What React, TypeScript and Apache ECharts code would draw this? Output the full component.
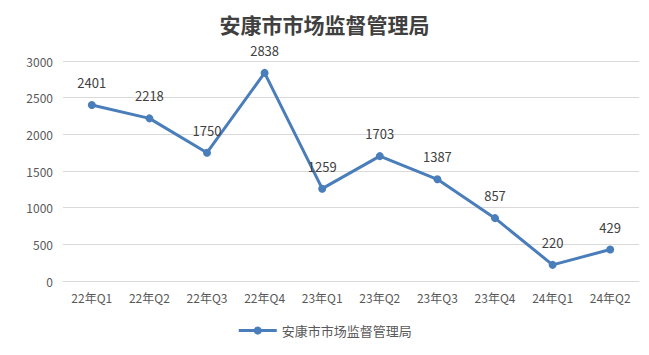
import React, { useEffect, useRef } from "react";
import * as echarts from "echarts";

const categories = ["22年Q1", "22年Q2", "22年Q3", "22年Q4", "23年Q1", "23年Q2", "23年Q3", "23年Q4", "24年Q1", "24年Q2"];
const values = [2401, 2218, 1750, 2838, 1259, 1703, 1387, 857, 220, 429];
const seriesName = "安康市市场监督管理局";
const titleText = "安康市市场监督管理局";

export default function App() {
  const ref = useRef<HTMLDivElement>(null);
  useEffect(() => {
    const chart = echarts.init(ref.current!, null, { renderer: "svg" });
    const font = "'Noto Sans CJK SC', 'Noto Sans', sans-serif";
    chart.setOption({
      animation: false,
      backgroundColor: "#ffffff",
      title: {
        text: titleText,
        left: "center",
        top: 8,
        textStyle: { fontFamily: "'Noto Sans CJK SC', serif", fontSize: 21, fontWeight: "bold", color: "#404040" },
      },
      grid: { left: 63, right: 10, top: 61, bottom: 74 },
      legend: {
        bottom: 13,
        left: "center",
        data: [seriesName],
        itemWidth: 38,
        itemHeight: 10,
        itemGap: 4,
        lineStyle: { width: 3 },
        textStyle: { fontFamily: font, fontSize: 13, color: "#595959" },
      },
      xAxis: {
        type: "category",
        data: categories,
        boundaryGap: true,
        axisLine: { lineStyle: { color: "#d9d9d9" } },
        axisTick: { show: false },
        axisLabel: { fontFamily: font, fontSize: 12, color: "#595959", margin: 10 },
      },
      yAxis: {
        type: "value",
        min: 0,
        max: 3000,
        interval: 500,
        axisLine: { show: false },
        axisTick: { show: false },
        splitLine: { lineStyle: { color: "#d9d9d9" } },
        axisLabel: { fontFamily: font, fontSize: 12, color: "#595959", margin: 10, formatter: (v: number) => String(v) },
      },
      series: [
        {
          name: seriesName,
          type: "line",
          data: values,
          symbol: "circle",
          symbolSize: 8,
          lineStyle: { color: "#4a7ebb", width: 3 },
          itemStyle: { color: "#4a7ebb" },
          label: {
            show: true,
            position: "top",
            distance: 12,
            fontFamily: font,
            fontSize: 13,
            color: "#404040",
          },
        },
      ],
    });
    return () => chart.dispose();
  }, []);
  return <div ref={ref} style={{ width: 649, height: 355, margin: -8 }} />;
}
